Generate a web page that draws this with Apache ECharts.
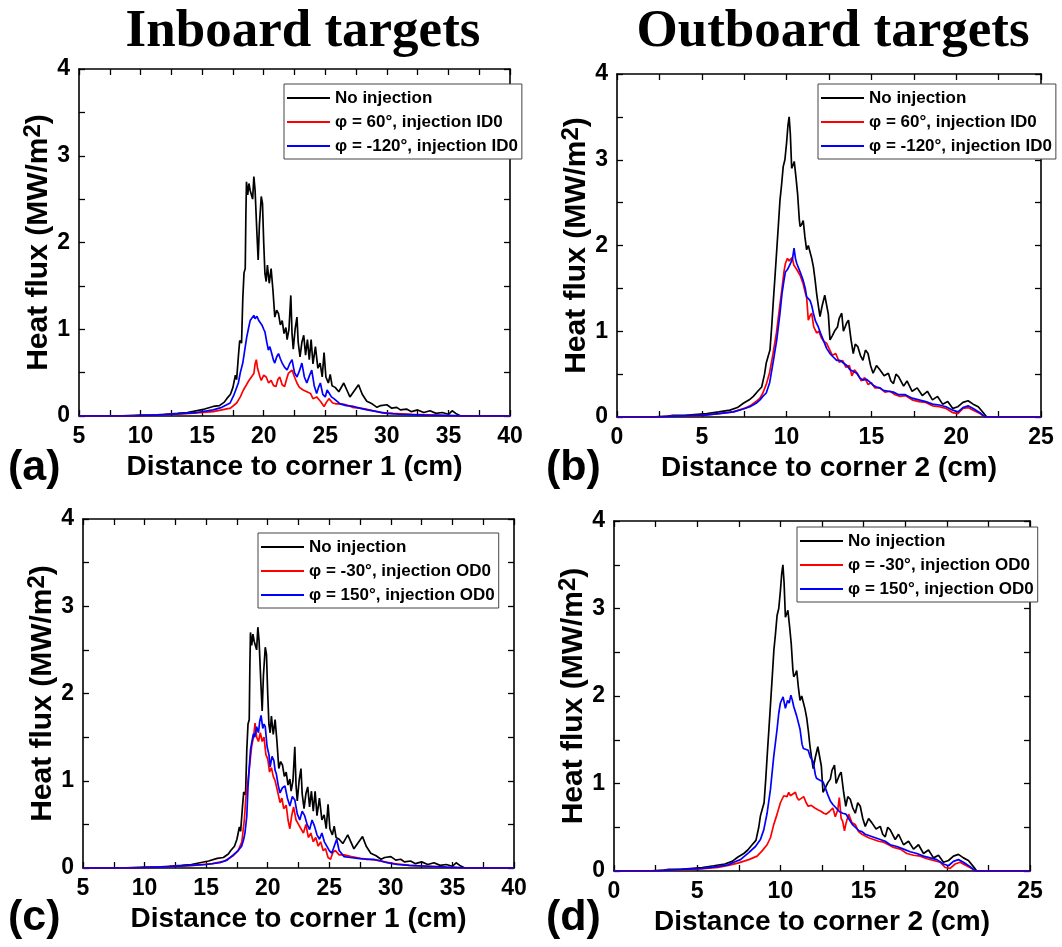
<!DOCTYPE html>
<html><head><meta charset="utf-8">
<script src="https://cdn.jsdelivr.net/npm/echarts@6/dist/echarts.min.js"></script>
<style>html,body{margin:0;padding:0;background:#fff}#c{width:1062px;height:947px}</style>
</head><body><div id="c"></div>
<script>
// ---------- DATA ----------
const columnTitles = ['Inboard targets', 'Outboard targets'];
const panelLabels = ['(a)', '(b)', '(c)', '(d)'];
const xAxisNames = ['Distance to corner 1 (cm)', 'Distance to corner 2 (cm)', 'Distance to corner 1 (cm)', 'Distance to corner 2 (cm)'];
const yAxisName = 'Heat flux (MW/m{s|2})';
const namesTop = ['No injection', 'φ = 60°, injection ID0', 'φ = -120°, injection ID0'];
const namesBottom = ['No injection', 'φ = -30°, injection OD0', 'φ = 150°, injection OD0'];
const inboardRange = [5, 40];
const outboardRange = [0, 25];
const yRange = [0, 4];

// No injection, inboard (panels a, c)
const inboardNoInj = [[5,0],[8,0],[10,0.01],[11,0.01],[12,0.02],[13,0.03],[13.8,0.04],[14.5,0.06],[15.2,0.08],[15.9,0.11],[16.4,0.12],[16.8,0.16],[17.0,0.2],[17.3,0.25],[17.5,0.33],[17.7,0.47],[17.8,0.42],[17.95,0.7],[18.05,0.87],[18.2,0.84],[18.3,1.35],[18.4,1.65],[18.5,1.7],[18.55,2.3],[18.6,2.7],[18.7,2.55],[18.8,2.68],[18.9,2.6],[19.0,2.62],[19.1,2.5],[19.2,2.76],[19.3,2.6],[19.45,2.1],[19.55,1.8],[19.65,2.2],[19.8,2.53],[19.9,2.45],[20.0,2.0],[20.1,1.64],[20.2,1.55],[20.3,1.74],[20.45,1.53],[20.6,1.7],[20.75,1.45],[20.9,1.14],[21.05,1.22],[21.2,1.18],[21.35,1.05],[21.5,1.1],[21.65,0.95],[21.8,1.02],[21.9,0.88],[22.05,1.0],[22.2,1.39],[22.3,0.95],[22.4,0.77],[22.55,1.0],[22.7,1.14],[22.8,0.85],[22.95,0.68],[23.1,0.85],[23.25,0.93],[23.4,0.7],[23.55,0.88],[23.7,0.65],[23.85,0.88],[24.0,0.6],[24.2,0.8],[24.4,0.55],[24.58,0.61],[24.75,0.45],[24.9,0.73],[25.05,0.45],[25.25,0.38],[25.4,0.48],[25.55,0.35],[25.8,0.33],[26.1,0.28],[26.5,0.38],[26.75,0.3],[27.0,0.22],[27.3,0.28],[27.7,0.36],[28.0,0.25],[28.37,0.17],[28.8,0.14],[29.2,0.1],[29.5,0.12],[30.0,0.13],[30.4,0.09],[30.8,0.1],[31.1,0.07],[31.6,0.08],[32.0,0.05],[32.5,0.07],[33.0,0.04],[33.5,0.06],[34.0,0.03],[34.5,0.04],[35.0,0.02],[35.3,0.06],[35.6,0.03],[36,0],[40,0]];
// phi = 60 deg, injection ID0 (panel a)
const inboardPhi60 = [[5,0],[9,0],[10,0.005],[12,0.015],[14,0.03],[15.9,0.05],[16.6,0.07],[17.3,0.09],[17.8,0.15],[18.1,0.22],[18.35,0.3],[18.6,0.36],[18.8,0.41],[19.0,0.45],[19.2,0.49],[19.3,0.6],[19.4,0.65],[19.5,0.55],[19.6,0.53],[19.7,0.45],[19.8,0.41],[20.0,0.47],[20.2,0.45],[20.4,0.38],[20.6,0.41],[20.8,0.35],[21.0,0.34],[21.15,0.42],[21.3,0.45],[21.5,0.36],[21.7,0.34],[21.85,0.42],[22.0,0.49],[22.15,0.47],[22.3,0.53],[22.5,0.45],[22.7,0.38],[22.9,0.33],[23.2,0.3],[23.5,0.28],[23.8,0.26],[24.0,0.2],[24.3,0.22],[24.6,0.17],[24.9,0.11],[25.1,0.16],[25.3,0.2],[25.6,0.15],[25.9,0.14],[26.3,0.14],[26.7,0.13],[27.2,0.1],[27.8,0.09],[28.3,0.08],[28.9,0.06],[29.5,0.04],[30.5,0.03],[32,0.02],[34,0.01],[36,0],[40,0]];
// phi = -120 deg, injection ID0 (panel a)
const inboardPhiM120 = [[5,0],[9.5,0],[10,0.005],[12,0.015],[13.5,0.03],[14.56,0.04],[15.9,0.07],[16.6,0.1],[17.27,0.15],[17.6,0.25],[17.94,0.38],[18.1,0.5],[18.3,0.61],[18.45,0.75],[18.62,0.91],[18.75,1.0],[18.9,1.1],[19.05,1.12],[19.2,1.16],[19.3,1.12],[19.45,1.15],[19.6,1.1],[19.7,1.09],[19.85,1.05],[20.0,1.0],[20.1,0.97],[20.25,0.85],[20.38,0.76],[20.5,0.8],[20.65,0.72],[20.8,0.64],[20.9,0.61],[21.05,0.68],[21.2,0.72],[21.35,0.66],[21.5,0.61],[21.7,0.56],[21.9,0.53],[22.1,0.6],[22.3,0.65],[22.5,0.5],[22.7,0.45],[22.9,0.52],[23.1,0.61],[23.3,0.45],[23.5,0.38],[23.7,0.46],[23.9,0.53],[24.1,0.35],[24.3,0.26],[24.45,0.33],[24.6,0.38],[24.8,0.25],[25.0,0.22],[25.15,0.3],[25.3,0.28],[25.5,0.22],[25.7,0.2],[26.2,0.14],[26.7,0.12],[27.3,0.11],[27.8,0.09],[28.4,0.07],[29.2,0.05],[30,0.03],[31,0.02],[33,0.01],[35.5,0.005],[36,0],[40,0]];
// phi = -30 deg, injection OD0 (panel c)
const inboardPhiM30 = [[5,0],[9.5,0],[10,0.005],[12,0.015],[14,0.03],[15.5,0.05],[16.5,0.08],[17.2,0.14],[17.6,0.2],[17.9,0.3],[18.1,0.55],[18.25,0.85],[18.4,1.0],[18.55,1.2],[18.7,1.4],[18.85,1.5],[18.97,1.66],[19.1,1.5],[19.25,1.45],[19.4,1.55],[19.55,1.45],[19.7,1.5],[19.85,1.3],[20.0,1.25],[20.15,1.1],[20.3,1.15],[20.45,1.05],[20.6,1.0],[20.8,0.88],[21.0,0.75],[21.15,0.8],[21.3,0.68],[21.5,0.72],[21.65,0.55],[21.8,0.45],[21.95,0.6],[22.1,0.7],[22.3,0.55],[22.5,0.5],[22.7,0.45],[22.9,0.4],[23.1,0.5],[23.3,0.35],[23.5,0.4],[23.7,0.3],[23.9,0.35],[24.1,0.25],[24.3,0.3],[24.5,0.2],[24.7,0.22],[24.9,0.12],[25.1,0.1],[25.3,0.18],[25.5,0.2],[25.8,0.15],[26.2,0.15],[26.8,0.13],[27.5,0.11],[28.2,0.1],[28.8,0.09],[29.5,0.07],[30.3,0.05],[31.5,0.03],[33,0.02],[34.5,0.01],[35.5,0.005],[36,0],[40,0]];
// phi = 150 deg, injection OD0 (panel c)
const inboardPhi150 = [[5,0],[9.5,0],[10,0.005],[12,0.015],[13.7,0.03],[15,0.04],[16.1,0.06],[16.7,0.09],[17.2,0.15],[17.6,0.2],[17.88,0.25],[18.05,0.33],[18.15,0.4],[18.3,0.59],[18.4,0.93],[18.5,1.15],[18.6,1.35],[18.72,1.45],[18.84,1.54],[18.95,1.5],[19.1,1.62],[19.25,1.55],[19.35,1.68],[19.46,1.75],[19.6,1.6],[19.7,1.65],[19.8,1.62],[19.95,1.39],[20.1,1.3],[20.2,1.16],[20.35,1.28],[20.5,1.23],[20.6,1.12],[20.7,1.08],[20.85,0.95],[21.0,0.86],[21.2,0.92],[21.4,0.94],[21.6,0.8],[21.8,0.71],[22.0,0.82],[22.2,0.78],[22.4,0.62],[22.6,0.55],[22.8,0.65],[23.0,0.6],[23.2,0.5],[23.4,0.44],[23.6,0.55],[23.8,0.48],[24.0,0.38],[24.2,0.33],[24.4,0.4],[24.6,0.3],[24.8,0.25],[25.0,0.2],[25.2,0.17],[25.4,0.25],[25.6,0.33],[25.8,0.2],[26.2,0.13],[26.7,0.12],[27.3,0.11],[28,0.1],[28.6,0.1],[29.2,0.08],[29.7,0.06],[30.5,0.04],[31.5,0.03],[33,0.02],[34.5,0.01],[35.5,0.005],[36,0],[40,0]];

// No injection, outboard (panels b, d)
const outboardNoInj = [[0,0],[2,0],[3,0.01],[3.3,0.02],[4,0.02],[5.3,0.04],[6,0.06],[6.66,0.08],[7.1,0.11],[7.45,0.16],[7.8,0.2],[8.04,0.24],[8.3,0.3],[8.53,0.35],[8.7,0.5],[8.8,0.63],[8.9,0.7],[9.02,0.78],[9.12,1.05],[9.22,1.36],[9.32,1.65],[9.42,1.95],[9.52,2.25],[9.61,2.53],[9.7,2.7],[9.8,2.92],[9.9,3.0],[10.0,3.2],[10.08,3.4],[10.15,3.5],[10.22,3.3],[10.3,2.9],[10.4,2.95],[10.45,2.98],[10.55,2.8],[10.65,2.6],[10.75,2.3],[10.8,2.22],[10.9,2.25],[10.98,2.29],[11.08,2.1],[11.18,1.95],[11.28,2.0],[11.38,2.0],[11.48,1.85],[11.58,1.75],[11.68,1.6],[11.77,1.44],[11.87,1.3],[11.97,1.17],[12.1,1.3],[12.25,1.42],[12.36,1.44],[12.46,1.2],[12.56,0.9],[12.7,0.95],[12.85,1.01],[13.0,1.05],[13.1,1.15],[13.25,1.21],[13.35,1.0],[13.45,0.98],[13.55,1.1],[13.65,1.13],[13.8,0.9],[13.93,0.74],[14.05,0.85],[14.2,0.82],[14.35,0.72],[14.5,0.66],[14.65,0.78],[14.8,0.74],[14.95,0.6],[15.1,0.51],[15.3,0.6],[15.5,0.55],[15.75,0.48],[16.0,0.51],[16.15,0.42],[16.3,0.39],[16.45,0.5],[16.6,0.47],[16.9,0.36],[17.1,0.42],[17.4,0.3],[17.7,0.34],[18.0,0.25],[18.3,0.3],[18.6,0.2],[18.9,0.24],[19.2,0.15],[19.5,0.18],[19.8,0.1],[20.1,0.12],[20.4,0.17],[20.7,0.19],[21.0,0.15],[21.3,0.12],[21.6,0.05],[21.8,0],[25,0]];
// phi = 60 deg, injection ID0 (panel b)
const outboardPhi60 = [[0,0],[2.5,0],[3.3,0.01],[5,0.02],[6,0.04],[6.86,0.06],[7.5,0.1],[7.84,0.13],[8.2,0.18],[8.43,0.22],[8.6,0.28],[8.8,0.38],[9.0,0.52],[9.2,0.74],[9.4,0.98],[9.6,1.3],[9.73,1.5],[9.85,1.7],[9.93,1.79],[10.05,1.85],[10.15,1.82],[10.23,1.83],[10.33,1.86],[10.43,1.77],[10.6,1.72],[10.8,1.65],[10.98,1.55],[11.1,1.45],[11.18,1.4],[11.28,1.13],[11.38,1.18],[11.48,1.21],[11.6,1.05],[11.77,0.98],[11.9,1.0],[12.06,0.92],[12.2,0.88],[12.36,0.86],[12.5,0.8],[12.7,0.72],[12.9,0.74],[13.1,0.64],[13.3,0.66],[13.5,0.58],[13.7,0.6],[13.85,0.48],[14.0,0.55],[14.2,0.5],[14.4,0.42],[14.6,0.46],[14.8,0.38],[15.0,0.4],[15.2,0.34],[15.5,0.34],[15.8,0.29],[16.1,0.3],[16.4,0.26],[16.7,0.24],[17.0,0.25],[17.4,0.2],[17.8,0.18],[18.2,0.17],[18.6,0.13],[19.0,0.12],[19.4,0.1],[19.8,0.05],[20.1,0.04],[20.4,0.1],[20.7,0.11],[21.0,0.08],[21.4,0.04],[21.7,0],[25,0]];
// phi = -120 deg, injection ID0 (panel b)
const outboardPhiM120 = [[0,0],[2.5,0],[3.3,0.01],[5,0.02],[6,0.04],[6.86,0.06],[7.4,0.09],[7.84,0.12],[8.2,0.16],[8.43,0.2],[8.6,0.24],[8.8,0.28],[9.0,0.4],[9.2,0.63],[9.42,0.9],[9.61,1.21],[9.73,1.44],[9.85,1.6],[9.93,1.69],[10.05,1.72],[10.13,1.75],[10.25,1.8],[10.35,1.85],[10.44,1.97],[10.52,1.85],[10.6,1.79],[10.8,1.69],[10.98,1.59],[11.1,1.5],[11.18,1.4],[11.28,1.38],[11.38,1.36],[11.48,1.3],[11.58,1.21],[11.7,1.12],[11.87,1.05],[12.0,0.98],[12.16,0.9],[12.36,0.8],[12.56,0.74],[12.75,0.7],[12.95,0.66],[13.15,0.66],[13.35,0.63],[13.55,0.6],[13.74,0.55],[13.95,0.53],[14.13,0.51],[14.3,0.46],[14.5,0.43],[14.7,0.44],[14.9,0.41],[15.1,0.37],[15.3,0.35],[15.5,0.34],[15.7,0.31],[16.0,0.3],[16.3,0.29],[16.6,0.26],[17.0,0.26],[17.4,0.22],[17.8,0.2],[18.2,0.18],[18.6,0.15],[19.0,0.14],[19.4,0.12],[19.8,0.08],[20.1,0.06],[20.4,0.11],[20.7,0.13],[21.0,0.1],[21.4,0.05],[21.7,0],[25,0]];
// phi = -30 deg, injection OD0 (panel d)
const outboardPhiM30 = [[0,0],[2.5,0],[3.3,0.01],[5,0.02],[6.26,0.04],[7,0.07],[7.44,0.09],[8.1,0.13],[8.6,0.17],[8.9,0.23],[9.2,0.3],[9.4,0.38],[9.6,0.53],[9.8,0.65],[10.0,0.78],[10.2,0.86],[10.3,0.88],[10.4,0.85],[10.5,0.9],[10.6,0.86],[10.75,0.88],[10.9,0.9],[11.0,0.84],[11.1,0.81],[11.25,0.83],[11.4,0.85],[11.55,0.78],[11.67,0.74],[11.85,0.75],[12.07,0.72],[12.25,0.7],[12.46,0.68],[12.6,0.66],[12.76,0.65],[12.95,0.68],[13.15,0.72],[13.3,0.62],[13.45,0.7],[13.54,0.84],[13.65,0.6],[13.74,0.57],[13.85,0.46],[13.95,0.55],[14.1,0.65],[14.3,0.55],[14.5,0.53],[14.7,0.45],[14.9,0.42],[15.1,0.4],[15.3,0.38],[15.6,0.36],[15.9,0.34],[16.2,0.33],[16.5,0.3],[16.8,0.27],[17.2,0.25],[17.6,0.2],[18.0,0.18],[18.4,0.17],[18.8,0.14],[19.2,0.12],[19.6,0.1],[19.9,0.04],[20.2,0.03],[20.5,0.08],[20.8,0.1],[21.1,0.07],[21.5,0.03],[21.7,0],[25,0]];
// phi = 150 deg, injection OD0 (panel d)
const outboardPhi150 = [[0,0],[2.5,0],[3.3,0.01],[5.3,0.03],[6.2,0.05],[6.85,0.07],[7.2,0.1],[7.6,0.13],[8.1,0.21],[8.5,0.28],[8.8,0.36],[9.0,0.47],[9.2,0.66],[9.4,0.93],[9.6,1.31],[9.8,1.62],[9.9,1.8],[10.0,1.92],[10.16,1.99],[10.3,1.86],[10.43,1.95],[10.53,1.92],[10.63,2.01],[10.72,1.95],[10.8,1.88],[10.98,1.77],[11.18,1.62],[11.3,1.45],[11.38,1.4],[11.5,1.38],[11.67,1.38],[11.8,1.3],[11.97,1.25],[12.1,1.1],[12.17,1.06],[12.35,1.04],[12.56,1.02],[12.7,0.95],[12.85,0.87],[13.0,0.8],[13.15,0.76],[13.35,0.72],[13.54,0.68],[13.74,0.66],[13.94,0.65],[14.1,0.6],[14.33,0.53],[14.5,0.5],[14.72,0.46],[14.9,0.45],[15.1,0.42],[15.4,0.4],[15.7,0.38],[16.0,0.36],[16.3,0.34],[16.6,0.3],[17.0,0.28],[17.4,0.25],[17.8,0.22],[18.2,0.2],[18.6,0.17],[19.0,0.15],[19.4,0.13],[19.8,0.08],[20.1,0.06],[20.4,0.11],[20.7,0.13],[21.0,0.1],[21.4,0.05],[21.7,0],[25,0]];

// ---------- LAYOUT / STYLE ----------
const COLORS = ['#000000', '#ff0000', '#0000ff'];
const SANS = 'Liberation Sans, Arial, sans-serif';
const SERIF = 'Liberation Serif, Times New Roman, serif';
const panels = [
  { grid: {left: 79, top: 69, width: 431, height: 347}, range: inboardRange, names: namesTop, data: [inboardNoInj, inboardPhi60, inboardPhiM120], legend: {left: 284, top: 84}, label: {left: 3, top: 442} },
  { grid: {left: 617, top: 74, width: 424, height: 343}, range: outboardRange, names: namesTop, data: [outboardNoInj, outboardPhi60, outboardPhiM120], legend: {left: 818, top: 84}, label: {left: 541, top: 442} },
  { grid: {left: 83, top: 519, width: 431, height: 349}, range: inboardRange, names: namesBottom, data: [inboardNoInj, inboardPhiM30, inboardPhi150], legend: {left: 258, top: 533}, label: {left: 3, top: 892} },
  { grid: {left: 614, top: 521, width: 416, height: 350}, range: outboardRange, names: namesBottom, data: [outboardNoInj, outboardPhiM30, outboardPhi150], legend: {left: 797, top: 527}, label: {left: 541, top: 892} }
];

const grid = [], xAxis = [], yAxis = [], series = [], legend = [];
const title = [
  { text: columnTitles[0], left: 298, top: 1, textAlign: 'center', textStyle: {fontFamily: SERIF, fontWeight: 'bold', fontSize: 53, color: '#000'} },
  { text: columnTitles[1], left: 828, top: 1, textAlign: 'center', textStyle: {fontFamily: SERIF, fontWeight: 'bold', fontSize: 53, color: '#000'} }
];
const axisLineStyle = {color: '#000', width: 1.6};
panels.forEach((p, i) => {
  grid.push(Object.assign({containLabel: false}, p.grid));
  const xBase = {
    gridIndex: i, type: 'value', min: p.range[0], max: p.range[1], interval: 5,
    axisLine: {show: true, onZero: false, lineStyle: axisLineStyle},
    axisTick: {show: true, inside: true, length: 6, lineStyle: {color: '#000', width: 1.3}},
    minorTick: {show: true, splitNumber: 2, length: 6, lineStyle: {color: '#000', width: 1.3}},
    splitLine: {show: false}
  };
  xAxis.push(Object.assign({}, xBase, {
    position: 'bottom',
    axisLabel: {show: true, margin: 9, fontFamily: SANS, fontWeight: 'bold', fontSize: 23, color: '#000'},
    name: xAxisNames[i], nameLocation: 'middle', nameGap: 37,
    nameTextStyle: {fontFamily: SANS, fontWeight: 'bold', fontSize: 28, color: '#000'}
  }));
  xAxis.push(Object.assign({}, xBase, {position: 'top', axisLabel: {show: false}}));
  const yBase = {
    gridIndex: i, type: 'value', min: yRange[0], max: yRange[1], interval: 1,
    axisLine: {show: true, onZero: false, lineStyle: axisLineStyle},
    axisTick: {show: true, inside: true, length: 6, lineStyle: {color: '#000', width: 1.3}},
    minorTick: {show: true, splitNumber: 2, length: 6, lineStyle: {color: '#000', width: 1.3}},
    splitLine: {show: false}
  };
  yAxis.push(Object.assign({}, yBase, {
    position: 'left',
    axisLabel: {show: true, margin: 9, fontFamily: SANS, fontWeight: 'bold', fontSize: 23, color: '#000'},
    name: yAxisName, nameLocation: 'middle', nameGap: 20, nameRotate: 90,
    nameTextStyle: {fontFamily: SANS, fontWeight: 'bold', fontSize: 30, color: '#000',
      rich: {s: {fontFamily: SANS, fontWeight: 'bold', fontSize: 24, color: '#000', verticalAlign: 'top', lineHeight: 34}}}
  }));
  yAxis.push(Object.assign({}, yBase, {position: 'right', axisLabel: {show: false}}));
  p.names.forEach((nm, k) => {
    series.push({
      type: 'line', name: nm, xAxisIndex: 2 * i, yAxisIndex: 2 * i,
      data: p.data[k], showSymbol: false, symbol: 'none', smooth: false,
      lineStyle: {color: COLORS[k], width: 1.7}, itemStyle: {color: COLORS[k]},
      silent: true, z: 2 + k, clip: true
    });
  });
  legend.push({
    orient: 'vertical', left: p.legend.left, top: p.legend.top,
    data: p.names.map(n => ({name: n, icon: 'rect'})),
    itemWidth: 43, itemHeight: 2, itemGap: 6,
    padding: [5, 4, 4, 3], borderColor: '#444', borderWidth: 1,
    backgroundColor: '#fff',
    textStyle: {fontFamily: SANS, fontWeight: 'bold', fontSize: 17, color: '#000', lineHeight: 18},
    selectedMode: false
  });
  title.push({ text: panelLabels[i], left: p.label.left, top: p.label.top,
    textStyle: {fontFamily: SANS, fontWeight: 'bold', fontSize: 43, color: '#000'} });
});

const chart = echarts.init(document.getElementById('c'), null, {renderer: 'canvas'});
chart.setOption({ animation: false, backgroundColor: '#fff', title, grid, xAxis, yAxis, series, legend });
</script></body></html>
